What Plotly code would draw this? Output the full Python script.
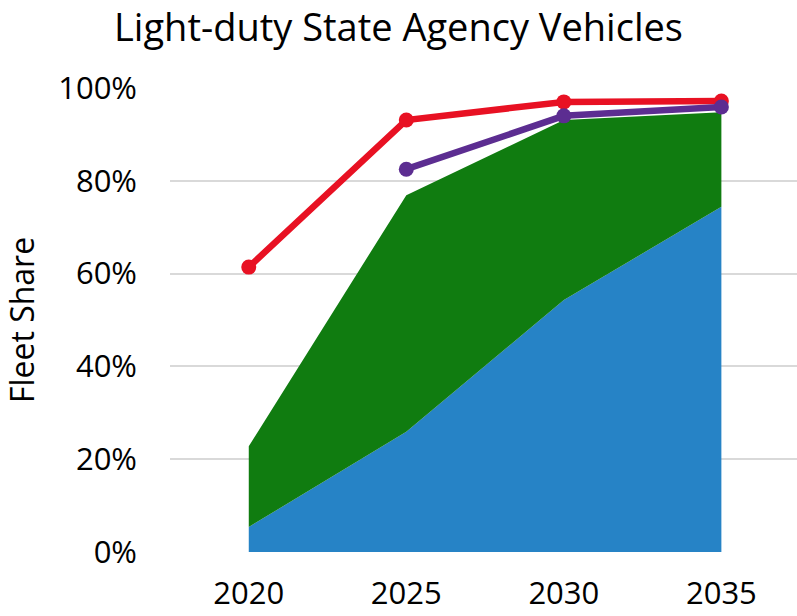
import plotly.graph_objs as go

years = ["2020", "2025", "2030", "2035"]

# stacked areas (shares of fleet)
blue_share = [0.054, 0.259, 0.543, 0.744]
green_share = [0.174, 0.510, 0.388, 0.204]

# lines
red_line = [0.614, 0.931, 0.970, 0.972]
purple_line = [None, 0.825, 0.940, 0.959]

fig = go.Figure()

fig.add_trace(go.Scatter(x=years, y=blue_share, stackgroup="a", mode="none",
                         fillcolor="#2683C6", name="blue"))
fig.add_trace(go.Scatter(x=years, y=green_share, stackgroup="a", mode="none",
                         fillcolor="#107C10", name="green"))
fig.add_trace(go.Scatter(x=years, y=red_line, mode="lines+markers",
                         line=dict(color="#E81123", width=6.5),
                         marker=dict(color="#E81123", size=15), name="red"))
fig.add_trace(go.Scatter(x=years, y=purple_line, mode="lines+markers",
                         line=dict(color="#5C2D91", width=6.5),
                         marker=dict(color="#5C2D91", size=15), name="purple"))

fig.update_layout(
    width=797, height=616,
    title=dict(text="Light-duty State Agency Vehicles", x=0.5, xanchor="center",
               y=0.976, yanchor="top", font=dict(size=38, color="black")),
    font=dict(family="Open Sans", color="black", size=30),
    plot_bgcolor="white", paper_bgcolor="white",
    showlegend=False,
    margin=dict(l=170, r=0, t=88, b=64, autoexpand=False),
    xaxis=dict(type="category", range=[-0.5, 3.48], showgrid=False,
               ticks="", ticklabelstandoff=20, tickfont=dict(size=31),
               automargin=False),
    yaxis=dict(range=[0, 1.0], tickvals=[0, 0.2, 0.4, 0.6, 0.8, 1.0],
               tickformat=".0%", gridcolor="#d9d9d9", gridwidth=2,
               zeroline=False, ticklabelstandoff=32, tickfont=dict(size=31),
               automargin=False,
               title=dict(text="Fleet Share", font=dict(size=32), standoff=14)),
)

# drop the default page margin so the figure fills the window exactly
fig.write_html("out.html", config={"displayModeBar": False},
               post_script="document.body.style.margin='0';"
                           "document.body.style.overflow='hidden';")
